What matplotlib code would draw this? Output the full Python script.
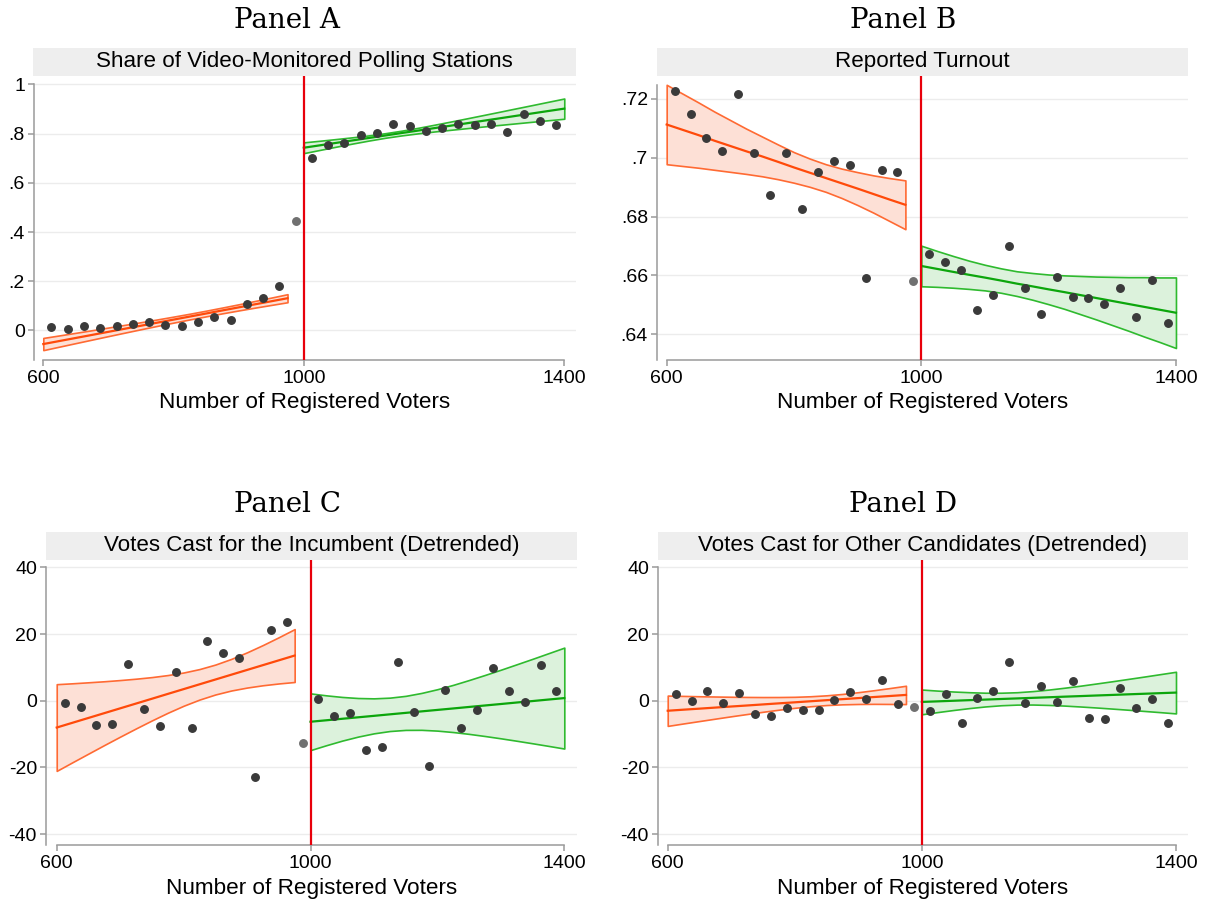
import matplotlib
matplotlib.use("Agg")
import matplotlib.pyplot as plt
from matplotlib.patches import Rectangle

plt.rcParams["font.family"] = ["Liberation Sans", "DejaVu Sans"]

# bin centres (25-voter bins); the bin just below the cutoff is left out of the fits
bins_below = [612.5, 637.5, 662.5, 687.5, 712.5, 737.5, 762.5, 787.5,
              812.5, 837.5, 862.5, 887.5, 912.5, 937.5, 962.5]
bins_above = [1012.5, 1037.5, 1062.5, 1087.5, 1112.5, 1137.5, 1162.5, 1187.5,
              1212.5, 1237.5, 1262.5, 1287.5, 1312.5, 1337.5, 1362.5, 1387.5]
bin_excluded = 987.5

# x positions where the fitted confidence bands are evaluated
grid_below = [600, 625, 650, 675, 700, 725, 750, 775,
              800, 825, 850, 875, 900, 925, 950, 975]
grid_above = [1000, 1025, 1050, 1075, 1100, 1125, 1150, 1175, 1200,
              1225, 1250, 1275, 1300, 1325, 1350, 1375, 1400]

# Panel A: share of video-monitored stations
share_below = [0.015, 0.007, 0.019, 0.012, 0.018, 0.028, 0.033, 0.023,
               0.017, 0.033, 0.054, 0.041, 0.106, 0.131, 0.181]
share_above = [0.701, 0.755, 0.760, 0.795, 0.801, 0.840, 0.829, 0.812,
               0.821, 0.838, 0.836, 0.838, 0.807, 0.881, 0.852, 0.834]
share_excluded = 0.443
share_lo_below = [-0.0800, -0.0656, -0.0513, -0.0371, -0.0229, -0.0089, 0.0050, 0.0186,
                  0.0319, 0.0449, 0.0574, 0.0696, 0.0813, 0.0927, 0.1037, 0.1146]
share_hi_below = [-0.0304, -0.0200, -0.0095, 0.0011, 0.0119, 0.0227, 0.0336, 0.0448,
                  0.0563, 0.0681, 0.0804, 0.0932, 0.1063, 0.1198, 0.1335, 0.1474]
share_lo_above = [0.7206, 0.7338, 0.7469, 0.7596, 0.7717, 0.7829, 0.7925, 0.8008, 0.8083,
                  0.8152, 0.8219, 0.8286, 0.8350, 0.8414, 0.8478, 0.8541, 0.8603]
share_hi_above = [0.7644, 0.7710, 0.7779, 0.7850, 0.7927, 0.8015, 0.8117, 0.8232, 0.8357,
                  0.8486, 0.8617, 0.8750, 0.8884, 0.9020, 0.9154, 0.9290, 0.9425]

# Panel B: reported turnout
turnout_below = [0.7227, 0.7148, 0.7066, 0.7022, 0.7216, 0.7015, 0.6873, 0.7016,
                 0.6827, 0.6953, 0.6990, 0.6977, 0.6592, 0.6958, 0.6953]
turnout_above = [0.6673, 0.6647, 0.6618, 0.6483, 0.6534, 0.6701, 0.6558, 0.6468,
                 0.6594, 0.6528, 0.6524, 0.6502, 0.6556, 0.6457, 0.6583, 0.6439]
turnout_excluded = 0.6581
turnout_lo_below = [0.6978, 0.6972, 0.6966, 0.6959, 0.6952, 0.6945, 0.6937, 0.6927,
                    0.6915, 0.6901, 0.6884, 0.6863, 0.6839, 0.6813, 0.6785, 0.6757]
turnout_hi_below = [0.7248, 0.7218, 0.7188, 0.7157, 0.7128, 0.7099, 0.7072, 0.7045,
                    0.7019, 0.6997, 0.6978, 0.6963, 0.6951, 0.6940, 0.6931, 0.6923]
turnout_lo_above = [0.6563, 0.6561, 0.6558, 0.6554, 0.6549, 0.6541, 0.6530, 0.6517, 0.6502,
                    0.6486, 0.6468, 0.6450, 0.6431, 0.6412, 0.6392, 0.6373, 0.6353]
turnout_hi_above = [0.6701, 0.6683, 0.6666, 0.6650, 0.6636, 0.6624, 0.6614, 0.6608, 0.6603,
                    0.6600, 0.6598, 0.6596, 0.6595, 0.6594, 0.6594, 0.6593, 0.6593]

# Panel C: incumbent votes (detrended)
inc_below = [-0.8, -2.0, -7.4, -7.0, 11.0, -2.6, -7.6, 8.5,
             -8.3, 17.8, 14.3, 12.9, -22.9, 21.2, 23.6]
inc_above = [0.4, -4.7, -3.7, -14.7, -13.9, 11.5, -3.5, -19.5,
             3.1, -8.3, -2.9, 9.7, 2.9, -0.5, 10.7, 3.0]
inc_excluded = -12.6
inc_lo_below = [-21.05, -18.44, -15.86, -13.29, -10.77, -8.30, -5.90, -3.61,
                -1.50, 0.35, 1.88, 3.07, 3.96, 4.65, 5.19, 5.63]
inc_hi_below = [4.97, 5.24, 5.54, 5.85, 6.21, 6.62, 7.10, 7.71,
                8.48, 9.51, 10.86, 12.55, 14.54, 16.73, 19.07, 21.51]
inc_lo_above = [-14.81, -13.34, -11.96, -10.76, -9.78, -9.09, -8.75, -8.73, -8.97,
                -9.40, -9.95, -10.59, -11.28, -12.01, -12.77, -13.55, -14.35]
inc_hi_above = [2.21, 1.62, 1.14, 0.82, 0.72, 0.93, 1.47, 2.35, 3.47,
                4.78, 6.23, 7.75, 9.32, 10.95, 12.59, 14.27, 15.95]

# Panel D: other candidates (detrended)
oth_below = [1.9, -0.2, 2.8, -0.6, 2.2, -4.0, -4.5, -2.2,
             -2.9, -2.7, 0.2, 2.7, 0.4, 6.3, -1.0]
oth_above = [-3.1, 2.0, -6.7, 0.8, 2.9, 11.6, -0.7, 4.5,
             -0.5, 5.9, -5.3, -5.6, 3.9, -2.2, 0.5, -6.7]
oth_excluded = -1.8
oth_lo_below = [-7.55, -6.81, -6.09, -5.37, -4.66, -3.98, -3.31, -2.68,
                -2.12, -1.65, -1.29, -1.08, -0.97, -0.93, -0.96, -1.00]
oth_hi_below = [1.55, 1.45, 1.35, 1.27, 1.20, 1.14, 1.11, 1.12,
                1.18, 1.35, 1.63, 2.04, 2.57, 3.17, 3.82, 4.50]
oth_lo_above = [-4.06, -3.40, -2.77, -2.20, -1.71, -1.35, -1.16, -1.14, -1.26,
                -1.46, -1.73, -2.03, -2.36, -2.70, -3.06, -3.42, -3.80]
oth_hi_above = [3.36, 3.04, 2.77, 2.56, 2.41, 2.41, 2.56, 2.90, 3.36,
                3.92, 4.53, 5.19, 5.86, 6.56, 7.26, 7.98, 8.70]

W, H = 1211, 902
fig = plt.figure(figsize=(W / 100, H / 100), dpi=100)

ORANGE_FILL, ORANGE_EDGE, ORANGE_LINE = "#fde0d6", "#ff6a33", "#ff4a0a"
GREEN_FILL, GREEN_EDGE, GREEN_LINE = "#dcf2dc", "#2fba2f", "#0ca60c"
SPINE = "#9a9a9a"

strip_text = {
    "Panel A": "Share of Video-Monitored Polling Stations",
    "Panel B": "Reported Turnout",
    "Panel C": "Votes Cast for the Incumbent (Detrended)",
    "Panel D": "Votes Cast for Other Candidates (Detrended)",
}


def band(ax, xs, lo, hi, fill, edge, line):
    ax.fill_between(xs, lo, hi, facecolor=fill, edgecolor=edge, linewidth=1.2, zorder=2)
    mid = [(a + b) / 2 for a, b in zip(lo, hi)]
    ax.plot(xs, mid, color=line, linewidth=1.6, zorder=3)


def panel(box, xlim, ylim, ytop, yticks, ylabels, strip, title, title_x, title_y,
          below, above, excluded, lo_b, hi_b, lo_a, hi_a):
    l, t, r, b = box
    ax = fig.add_axes([l / W, 1 - b / H, (r - l) / W, (b - t) / H])
    ax.set_xlim(*xlim)
    ax.set_ylim(*ylim)

    for yv in yticks:
        ax.axhline(yv, color="#ececec", linewidth=1.0, zorder=0)

    band(ax, grid_below, lo_b, hi_b, ORANGE_FILL, ORANGE_EDGE, ORANGE_LINE)
    band(ax, grid_above, lo_a, hi_a, GREEN_FILL, GREEN_EDGE, GREEN_LINE)
    ax.axvline(1000, color="#e8000b", linewidth=1.6, zorder=4)

    ax.plot(bins_below, below, "o", color="#3a3a3a", markersize=5.4, zorder=5)
    ax.plot(bins_above, above, "o", color="#3a3a3a", markersize=5.4, zorder=5)
    ax.plot([bin_excluded], [excluded], "o", color="#707070", markersize=5.4, zorder=5)

    for side in ["top", "right"]:
        ax.spines[side].set_visible(False)
    for side in ["left", "bottom"]:
        ax.spines[side].set_color(SPINE)
        ax.spines[side].set_linewidth(1.1)
    ax.spines["left"].set_bounds(ylim[0], ytop)
    ax.spines["bottom"].set_bounds(600, 1400)

    ax.set_xticks([600, 1000, 1400])
    ax.set_xticklabels(["600", "1000", "1400"])
    ax.set_yticks(yticks)
    ax.set_yticklabels(ylabels)
    ax.tick_params(axis="both", colors=SPINE, labelcolor="black", labelsize=14,
                   length=4.5, width=1.1)
    ax.tick_params(axis="x", pad=3)
    ax.tick_params(axis="y", pad=2)
    ax.set_xlabel("Number of Registered Voters", fontsize=16.2, labelpad=4)

    sl, st, sr, sb = strip
    fig.add_artist(Rectangle((sl / W, 1 - sb / H), (sr - sl) / W, (sb - st) / H,
                             transform=fig.transFigure, facecolor="#eeeeee",
                             edgecolor="none"))
    fig.text((sl + sr) / 2 / W, 1 - (st + sb) / 2 / H, strip_text[title],
             ha="center", va="center", fontsize=16.1)
    fig.text(title_x / W, 1 - title_y / H, title, ha="center", va="center",
             fontsize=20, family="DejaVu Serif")
    return ax


panel((34, 76, 576, 359.5), (585.7, 1418), (-0.118, 1.034), 1.0,
      [0, 0.2, 0.4, 0.6, 0.8, 1.0], ["0", ".2", ".4", ".6", ".8", "1"],
      (33, 48, 576, 76), "Panel A", 287, 20,
      share_below, share_above, share_excluded,
      share_lo_below, share_hi_below, share_lo_above, share_hi_above)

panel((657, 76, 1188, 359.5), (584.8, 1418.9), (0.6314, 0.7278), 0.7248,
      [0.64, 0.66, 0.68, 0.70, 0.72], [".64", ".66", ".68", ".7", ".72"],
      (657, 48, 1188, 76), "Panel B", 903, 20,
      turnout_below, turnout_above, turnout_excluded,
      turnout_lo_below, turnout_hi_below, turnout_lo_above, turnout_hi_above)

panel((46, 560, 577, 845), (583.1, 1420), (-43.3, 42.25), 40,
      [-40, -20, 0, 20, 40], ["-40", "-20", "0", "20", "40"],
      (46, 532, 577, 560), "Panel C", 287, 505,
      inc_below, inc_above, inc_excluded,
      inc_lo_below, inc_hi_below, inc_lo_above, inc_hi_above)

panel((658, 560, 1188, 845), (584.7, 1418.9), (-43.3, 42.25), 40,
      [-40, -20, 0, 20, 40], ["-40", "-20", "0", "20", "40"],
      (658, 532, 1188, 560), "Panel D", 903, 505,
      oth_below, oth_above, oth_excluded,
      oth_lo_below, oth_hi_below, oth_lo_above, oth_hi_above)

fig.savefig("out.png", dpi=100, facecolor="white")
